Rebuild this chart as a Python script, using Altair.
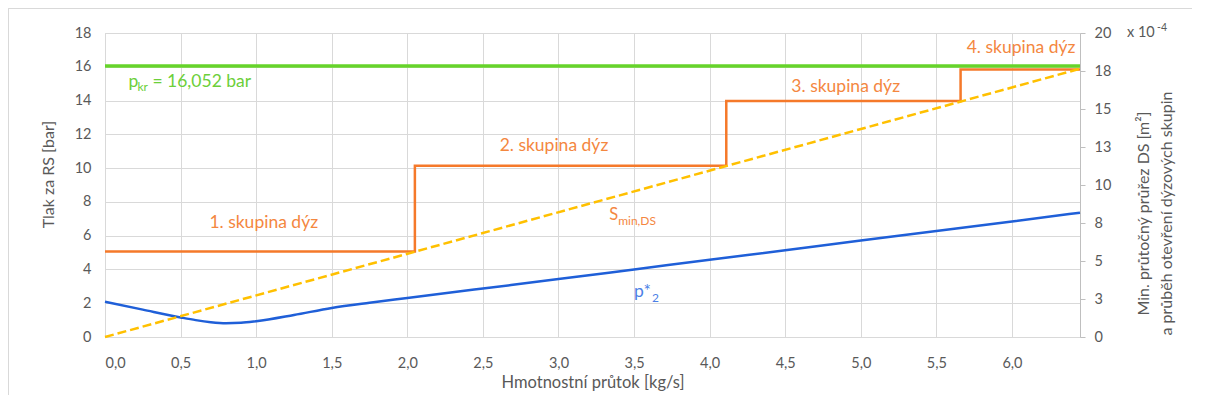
import altair as alt
import pandas as pd

FONT = "Lato"
GRID = "#D9D9D9"
TXT = "#595959"

# ---- data ----
x_max = 6.45
x_ticks = [0.0, 0.5, 1.0, 1.5, 2.0, 2.5, 3.0, 3.5, 4.0, 4.5, 5.0, 5.5, 6.0]
y_left_ticks = [0, 2, 4, 6, 8, 10, 12, 14, 16, 18]
y_right_ticks = [0, 2.5, 5, 7.5, 10, 12.5, 15, 17.5, 20]

p_kr = 16.052

flow = [0.0, 0.25, 0.5, 0.6, 0.7, 0.8, 0.9, 1.0, 1.25, 1.5, 1.75, 2.0,
        2.5, 3.0, 3.5, 4.0, 4.5, 5.0, 5.5, 6.0, 6.45]
p2 = [2.09, 1.62, 1.16, 1.0, 0.88, 0.82, 0.84, 0.93, 1.3, 1.72, 2.03, 2.31,
      2.87, 3.43, 4.0, 4.57, 5.14, 5.71, 6.27, 6.84, 7.36]

s_flow = [0.0, 6.45]
s_min = [0.0, 17.65]          # x 10^-4 m2

group_flow = [0.0, 2.05, 4.11, 5.66, 6.45]
group_s = [5.62, 11.27, 15.52, 17.6, 17.6]  # x 10^-4 m2

group_labels = ["1. skupina dýz", "2. skupina dýz", "3. skupina dýz", "4. skupina dýz"]
group_label_x = [1.05, 2.97, 4.9, 6.06]
group_label_y = [6.76, 11.33, 14.82, 17.13]

# ---- tables ----
df_kr = pd.DataFrame({"x": [0.0, x_max], "p": [p_kr, p_kr]})
df_p2 = pd.DataFrame({"x": flow, "p": p2})
df_s = pd.DataFrame({"x": s_flow, "s": s_min})
df_g = pd.DataFrame({"x": group_flow, "s": group_s})
df_gl = pd.DataFrame({"x": group_label_x, "p": group_label_y, "t": group_labels})

x_enc = alt.X(
    "x:Q",
    scale=alt.Scale(domain=[0, x_max], nice=False, zero=True),
    axis=alt.Axis(
        values=x_ticks, tickCount=40,
        labelExpr="replace(format(datum.value, '.1f'), '.', ',')",
        title="Hmotnostní průtok [kg/s]",
        grid=True, gridColor=GRID, gridWidth=1,
        domainColor=GRID, tickSize=0, labelPadding=19,
        labelFont=FONT, labelFontSize=14.5, labelColor=TXT,
        titleFont=FONT, titleFontSize=16.5, titleColor=TXT, titleFontWeight="normal",
        titleBaseline="middle", titleY=45,
    ),
)

y_left = alt.Y(
    "p:Q",
    scale=alt.Scale(domain=[0, 18], nice=False),
    axis=alt.Axis(
        values=y_left_ticks, tickCount=40, format="d",
        title="Tlak za RS [bar]",
        grid=True, gridColor=GRID, gridWidth=1,
        domainColor=GRID, tickSize=0, labelPadding=14,
        labelFont=FONT, labelFontSize=14.5, labelColor=TXT,
        titleFont=FONT, titleFontSize=16, titleColor=TXT, titleFontWeight="normal",
        titlePadding=18, titleY=141,
    ),
)

y_right = alt.Y(
    "s:Q",
    scale=alt.Scale(domain=[0, 20], nice=False),
    axis=alt.Axis(
        orient="right",
        values=y_right_ticks, tickCount=40, format=".0f",
        title=["Min. průtočný průřez DS [m²]", "a průběh otevření dýzových skupin"],
        grid=False, domainColor="#BFBFBF", tickColor="#BFBFBF", tickSize=5,
        labelPadding=9,
        labelFont=FONT, labelFontSize=14.5, labelColor=TXT,
        titleFont=FONT, titleFontSize=16, titleColor=TXT, titleFontWeight="normal",
        titleAngle=270, titlePadding=18, titleLineHeight=23, titleY=180,
    ),
)

kr_line = alt.Chart(df_kr).mark_line(color="#66D42A", strokeWidth=3.5).encode(x=x_enc, y=y_left)
p2_line = alt.Chart(df_p2).mark_line(color="#1F5FD8", strokeWidth=2.5, interpolate="monotone").encode(x="x:Q", y="p:Q")

group_text = alt.Chart(df_gl).mark_text(font=FONT, fontSize=17.5, color="#F4873F", align="center", baseline="middle").encode(
    x="x:Q", y="p:Q", text="t:N")

kr_anchor = pd.DataFrame({"x": [0.155], "p": [15.12]})
kr_p = alt.Chart(kr_anchor).mark_text(text="p", font=FONT, fontSize=17.5, color="#6CCF3A", align="left", baseline="middle").encode(x="x:Q", y="p:Q")
kr_sub = alt.Chart(kr_anchor).mark_text(text="kr", font=FONT, fontSize=12, color="#6CCF3A", align="left", baseline="middle", dx=9, dy=5).encode(x="x:Q", y="p:Q")
kr_val = alt.Chart(kr_anchor).mark_text(text="= 16,052 bar", font=FONT, fontSize=17.5, color="#6CCF3A", align="left", baseline="middle", dx=24).encode(x="x:Q", y="p:Q")

s_anchor = pd.DataFrame({"x": [3.335], "p": [7.25]})
s_S = alt.Chart(s_anchor).mark_text(text="S", font=FONT, fontSize=16.5, color="#F4873F", align="left", baseline="middle").encode(x="x:Q", y="p:Q")
s_sub = alt.Chart(s_anchor).mark_text(text="min,DS", font=FONT, fontSize=12, color="#F4873F", align="left", baseline="middle", dx=9, dy=6).encode(x="x:Q", y="p:Q")

p2_anchor = pd.DataFrame({"x": [3.5], "p": [2.64]})
p2_p = alt.Chart(p2_anchor).mark_text(text="p*", font=FONT, fontSize=17.5, color="#4C7FE6", align="left", baseline="middle").encode(x="x:Q", y="p:Q")
p2_sub = alt.Chart(p2_anchor).mark_text(text="2", font=FONT, fontSize=12, color="#4C7FE6", align="left", baseline="middle", dx=18, dy=6).encode(x="x:Q", y="p:Q")

exp_anchor = pd.DataFrame({"x": [x_max], "p": [18.0]})
exp_x = alt.Chart(exp_anchor).mark_text(text="x 10", font=FONT, fontSize=14.5, color=TXT, align="left", baseline="middle", dx=47).encode(x="x:Q", y="p:Q")
exp_p = alt.Chart(exp_anchor).mark_text(text="-4", font=FONT, fontSize=10.5, color=TXT, align="left", baseline="middle", dx=77, dy=-5).encode(x="x:Q", y="p:Q")

border_top = alt.Chart(df_kr).mark_rule(color=GRID, strokeWidth=1).encode(
    x=alt.value(-96.5), x2=alt.value(1120), y=alt.value(-24.5))
border_left = alt.Chart(df_kr).mark_rule(color=GRID, strokeWidth=1).encode(
    x=alt.value(-96.5), y=alt.value(-24.5), y2=alt.value(400))

left = alt.layer(kr_line, p2_line, group_text, kr_p, kr_sub, kr_val, s_S, s_sub,
                 p2_p, p2_sub, exp_x, exp_p, border_top, border_left)

g_line = alt.Chart(df_g).mark_line(color="#F5792A", strokeWidth=2.5, interpolate="step-after").encode(x=x_enc, y=y_right)
s_line = alt.Chart(df_s).mark_line(color="#FFC000", strokeWidth=2.5, strokeDash=[9, 4]).encode(x="x:Q", y="s:Q")
right = alt.layer(g_line, s_line)

chart = alt.layer(left, right).resolve_scale(y="independent").properties(
    width=975, height=304,
    autosize=alt.AutoSizeParams(type="none"),
    padding={"left": 97, "top": 25, "right": 112, "bottom": 58},
).configure_view(stroke=None).configure(background="white")

chart.save("out.html", embed_options={"renderer": "svg", "actions": False})
